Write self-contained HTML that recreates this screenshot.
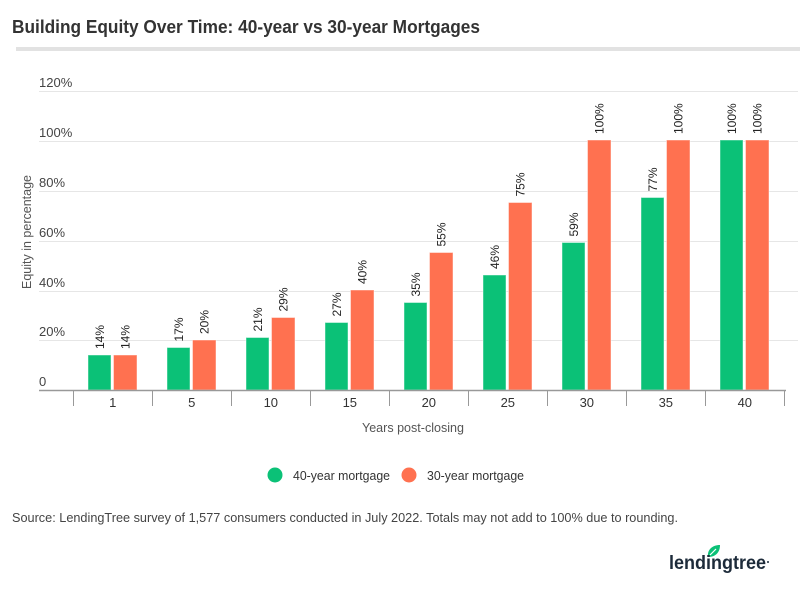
<!DOCTYPE html>
<html><head><meta charset="utf-8"><style>
html,body{margin:0;padding:0;background:#fff;}
svg{display:block;}
text{font-family:"Liberation Sans",sans-serif;}
</style></head><body>
<svg width="800" height="590" viewBox="0 0 800 590" xmlns="http://www.w3.org/2000/svg">
<rect width="800" height="590" fill="#fff"/>
<text x="12" y="33" font-size="18" font-weight="bold" fill="#333" textLength="468" lengthAdjust="spacingAndGlyphs">Building Equity Over Time: 40-year vs 30-year Mortgages</text>
<rect x="16" y="47" width="784" height="4" fill="#e2e2e2"/>
<g stroke="#e6e6e6" stroke-width="1">
<line x1="39" y1="91.5" x2="798" y2="91.5"/>
<line x1="39" y1="141.5" x2="798" y2="141.5"/>
<line x1="39" y1="191.5" x2="798" y2="191.5"/>
<line x1="39" y1="241.5" x2="798" y2="241.5"/>
<line x1="39" y1="291.5" x2="798" y2="291.5"/>
<line x1="39" y1="340.5" x2="798" y2="340.5"/>
</g>
<g font-size="13" fill="#444">
<text x="39" y="87">120%</text>
<text x="39" y="137">100%</text>
<text x="39" y="187">80%</text>
<text x="39" y="237">60%</text>
<text x="39" y="287">40%</text>
<text x="39" y="336">20%</text>
<text x="39" y="386">0</text>
</g>
<text transform="translate(31,232) rotate(-90)" text-anchor="middle" font-size="12.5" fill="#555">Equity in percentage</text>
<g id="bars" stroke="rgba(255,255,255,0.45)" stroke-width="1">
<!-- c = 112.8 + 79 i ; scale 2.5px per % ; base 390 -->
<rect x="88" y="355" width="23" height="35" fill="#0bc177"/>
<rect x="113.5" y="355" width="23.5" height="35" fill="#ff7150"/>
<rect x="167" y="347.5" width="23" height="42.5" fill="#0bc177"/>
<rect x="192.5" y="340" width="23.5" height="50" fill="#ff7150"/>
<rect x="246" y="337.5" width="23" height="52.5" fill="#0bc177"/>
<rect x="271.5" y="317.5" width="23.5" height="72.5" fill="#ff7150"/>
<rect x="325" y="322.5" width="23" height="67.5" fill="#0bc177"/>
<rect x="350.5" y="290" width="23.5" height="100" fill="#ff7150"/>
<rect x="404" y="302.5" width="23" height="87.5" fill="#0bc177"/>
<rect x="429.5" y="252.5" width="23.5" height="137.5" fill="#ff7150"/>
<rect x="483" y="275" width="23" height="115" fill="#0bc177"/>
<rect x="508.5" y="202.5" width="23.5" height="187.5" fill="#ff7150"/>
<rect x="562" y="242.5" width="23" height="147.5" fill="#0bc177"/>
<rect x="587.5" y="140" width="23.5" height="250" fill="#ff7150"/>
<rect x="641" y="197.5" width="23" height="192.5" fill="#0bc177"/>
<rect x="666.5" y="140" width="23.5" height="250" fill="#ff7150"/>
<rect x="720" y="140" width="23" height="250" fill="#0bc177"/>
<rect x="745.5" y="140" width="23.5" height="250" fill="#ff7150"/>
</g>
<g font-size="12" fill="#222">
<text transform="translate(104,349) rotate(-90)">14%</text>
<text transform="translate(129.5,349) rotate(-90)">14%</text>
<text transform="translate(183,341.5) rotate(-90)">17%</text>
<text transform="translate(208.5,334) rotate(-90)">20%</text>
<text transform="translate(262,331.5) rotate(-90)">21%</text>
<text transform="translate(287.5,311.5) rotate(-90)">29%</text>
<text transform="translate(341,316.5) rotate(-90)">27%</text>
<text transform="translate(366.5,284) rotate(-90)">40%</text>
<text transform="translate(420,296.5) rotate(-90)">35%</text>
<text transform="translate(445.5,246.5) rotate(-90)">55%</text>
<text transform="translate(499,269) rotate(-90)">46%</text>
<text transform="translate(524.5,196.5) rotate(-90)">75%</text>
<text transform="translate(578,236.5) rotate(-90)">59%</text>
<text transform="translate(603.5,134) rotate(-90)">100%</text>
<text transform="translate(657,191.5) rotate(-90)">77%</text>
<text transform="translate(682.5,134) rotate(-90)">100%</text>
<text transform="translate(736,134) rotate(-90)">100%</text>
<text transform="translate(761.5,134) rotate(-90)">100%</text>
</g>
<line x1="39" y1="390.5" x2="786" y2="390.5" stroke="#999" stroke-width="1.5"/>
<g stroke="#999" stroke-width="1">
<line x1="73.5" y1="390" x2="73.5" y2="406"/>
<line x1="152.5" y1="390" x2="152.5" y2="406"/>
<line x1="231.5" y1="390" x2="231.5" y2="406"/>
<line x1="310.5" y1="390" x2="310.5" y2="406"/>
<line x1="389.5" y1="390" x2="389.5" y2="406"/>
<line x1="468.5" y1="390" x2="468.5" y2="406"/>
<line x1="547.5" y1="390" x2="547.5" y2="406"/>
<line x1="626.5" y1="390" x2="626.5" y2="406"/>
<line x1="705.5" y1="390" x2="705.5" y2="406"/>
<line x1="784.5" y1="390" x2="784.5" y2="406"/>
</g>
<g font-size="13" fill="#333" text-anchor="middle">
<text x="112.8" y="407">1</text>
<text x="191.8" y="407">5</text>
<text x="270.8" y="407">10</text>
<text x="349.8" y="407">15</text>
<text x="428.8" y="407">20</text>
<text x="507.8" y="407">25</text>
<text x="586.8" y="407">30</text>
<text x="665.8" y="407">35</text>
<text x="744.8" y="407">40</text>
</g>
<text x="413" y="432" font-size="12.5" fill="#555" text-anchor="middle" textLength="102" lengthAdjust="spacingAndGlyphs">Years post-closing</text>
<circle cx="275" cy="475" r="7.5" fill="#0bc177"/>
<text x="293" y="480" font-size="12.5" fill="#333" textLength="97" lengthAdjust="spacingAndGlyphs">40-year mortgage</text>
<circle cx="409" cy="475" r="7.5" fill="#ff7150"/>
<text x="427" y="480" font-size="12.5" fill="#333" textLength="97" lengthAdjust="spacingAndGlyphs">30-year mortgage</text>
<text x="12" y="522" font-size="13" fill="#444" textLength="666" lengthAdjust="spacingAndGlyphs">Source: LendingTree survey of 1,577 consumers conducted in July 2022. Totals may not add to 100%  due to rounding.</text>
<path d="M708 557 C707 550 712 545 720 545 C720 552 716 557 708 557 Z" fill="#0bc177"/>
<path d="M710 555 L716 549" stroke="#fff" stroke-width="1.2"/>
<text x="669" y="569" font-size="19" font-weight="bold" fill="#1d2b3a" textLength="97" lengthAdjust="spacingAndGlyphs">lendingtree</text>
<circle cx="768" cy="562" r="1" fill="#1d2b3a"/>
</svg>
</body></html>
